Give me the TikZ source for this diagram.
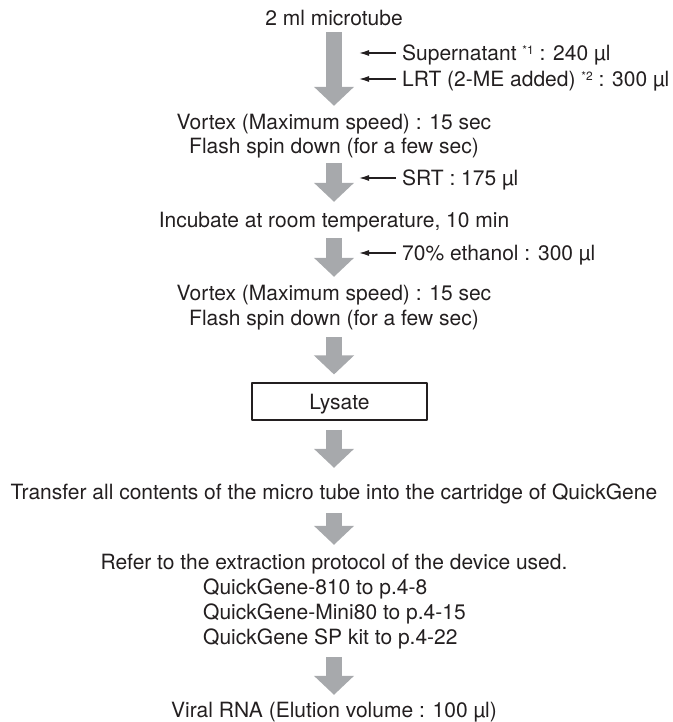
\documentclass[tikz,border=0pt]{standalone}
\usepackage{fontspec}
\setmainfont{TeX Gyre Heros}
\usetikzlibrary{arrows.meta}
\definecolor{xamnhat}{RGB}{167,169,172}
\definecolor{dendam}{RGB}{35,31,32}
\newcommand{\chuthich}[1]{\raisebox{5.5pt}{\fontsize{12}{12}\selectfont #1}}
\begin{document}
\begin{tikzpicture}[x=1pt,y=-1pt,font=\fontsize{21}{25}\selectfont,text=dendam,line join=round,
	lbl/.style={inner sep=0pt,text height=15pt,text depth=0pt},
	bigarrow/.style={xamnhat,line width=16pt,-{Triangle[width=39pt,length=19pt]}},
	addarrow/.style={dendam,line width=1.3pt,-{Latex[length=10pt,width=6pt]}}]
		\def\xc{334} \def\xt{402} % trục giữa, lề chữ bên phải
		\useasboundingbox (0,0) rectangle (672,722);
		\node[lbl] (tube) at (\xc,18) {2 ml microtube};
		\node[lbl,anchor=west] (supn) at (\xt,53) {Supernatant \chuthich{*1} : 240 µl};
		\node[lbl,anchor=west] (lrt) at (\xt,79) {LRT (2-ME added) \chuthich{*2} : 300 µl};
		\node[lbl] (vortexA) at (\xc,122) {Vortex (Maximum speed) : 15 sec};
		\node[lbl] (flashA) at (\xc,146) {Flash spin down (for a few sec)};
		\node[lbl,anchor=west] (srt) at (\xt,178) {SRT : 175 µl};
		\node[lbl] (incub) at (\xc,220) {Incubate at room temperature, 10 min};
		\node[lbl,anchor=west] (etoh) at (\xt,253) {70\% ethanol : 300 µl};
		\node[lbl] (vortexB) at (\xc,293) {Vortex (Maximum speed) : 15 sec};
		\node[lbl] (flashB) at (\xc,318) {Flash spin down (for a few sec)};
		\node[lbl,draw=dendam,line width=1.1pt,minimum width=175pt,minimum height=37pt] (lysate) at (339.5,401.5) {Lysate};
		\node[lbl] (transfer) at (\xc,492) {Transfer all contents of the micro tube into the cartridge of QuickGene};
		\node[lbl] (refer) at (\xc,562) {Refer to the extraction protocol of the device used.};
		\node[lbl,anchor=west] (q810) at (203,587) {QuickGene-810 to p.4-8};
		\node[lbl,anchor=west] (qmini) at (203,612) {QuickGene-Mini80 to p.4-15};
		\node[lbl,anchor=west] (qsp) at (203,637) {QuickGene SP kit to p.4-22};
		\node[lbl] (viral) at (\xc,710) {Viral RNA (Elution volume : 100 µl)};
		% mũi tên lớn
		\draw[bigarrow,shorten <=6.5pt,shorten >=8.5pt] (tube) -- (vortexA);
		\draw[bigarrow,shorten <=9.5pt,shorten >=10.5pt] (flashA) -- (incub);
		\draw[bigarrow,shorten <=10.5pt,shorten >=8.5pt] (incub) -- (vortexB);
		\draw[bigarrow,shorten <=11.5pt,shorten >=8pt] (flashB) -- (flashB |- lysate.north);
		\draw[bigarrow,shorten <=9pt,shorten >=16.5pt] (lysate.south -| transfer) -- (transfer);
		\draw[bigarrow,shorten <=13.5pt,shorten >=9.5pt] (transfer) -- (refer);
		\draw[bigarrow,shorten <=12.5pt,shorten >=7.5pt] (qsp.south -| viral) -- (viral);
		% mũi tên thêm chất
		\draw[addarrow] ([xshift=-6pt]supn.west) -- ++(-37,0);
		\draw[addarrow] ([xshift=-6pt]lrt.west) -- ++(-37,0);
		\draw[addarrow] ([xshift=-6pt]srt.west) -- ++(-37,0);
		\draw[addarrow] ([xshift=-6pt]etoh.west) -- ++(-37,0);
\end{tikzpicture}
\end{document}
